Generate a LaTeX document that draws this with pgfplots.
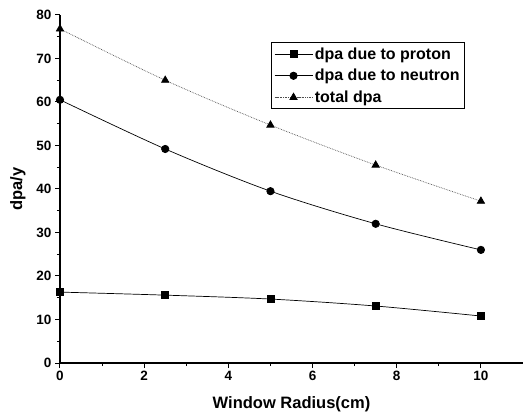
\documentclass[border=0pt]{standalone}
\usepackage{fontspec}
\setmainfont{Liberation Sans}
\usepackage{pgfplots}
\pgfplotsset{compat=1.18}
\pgfplotsset{myleg/.style={legend image code/.code={\draw[mark repeat=2,mark phase=2] plot coordinates {(0pt,0pt) (19pt,0pt) (38pt,0pt)};}}}
\begin{document}
\begin{tikzpicture}
\useasboundingbox (-60pt,-54pt) rectangle (464pt,363pt);
\begin{axis}[
  at={(0,0)}, anchor=south west,
  width=463pt, height=348pt, scale only axis,
  xmin=0, xmax=11, ymin=0, ymax=80,
  axis x line=bottom, axis y line=left,
  axis line style={-, line width=1.3pt},
  xtick={0,2,...,10}, ytick={0,10,...,80},
  minor x tick num=1, minor y tick num=1,
  tick align=outside, tick style={line width=1pt, black},
  major tick length=5pt, minor tick length=3pt,
  /pgf/number format/assume math mode=true,
  ticklabel style={font=\bfseries\fontsize{13.5}{15}\selectfont},
  xlabel={Window Radius(cm)}, ylabel={dpa/y},
  label style={font=\bfseries\fontsize{16.5}{18}\selectfont},
  xlabel style={yshift=-9pt},
  ylabel style={yshift=4pt},
  legend style={at={(0.455,0.922)}, anchor=north west, font=\bfseries\fontsize{16}{18}\selectfont, draw=black, line width=1pt, row sep=4.5pt, inner sep=3pt},
  legend cell align=left,
]
\addplot[black, smooth, mark=square*, mark size=3.5pt, line width=0.7pt, myleg] coordinates {(0,16.3) (2.5,15.6) (5,14.7) (7.5,13.1) (10,10.8)};
\addlegendentry{dpa due to proton}
\addplot[black, smooth, mark=*, mark size=3.7pt, line width=0.7pt, myleg] coordinates {(0,60.5) (2.5,49.2) (5,39.5) (7.5,32.0) (10,26.0)};
\addlegendentry{dpa due to neutron}
\addplot[black!70, smooth, densely dotted, mark=triangle*, mark size=4.2pt, mark options={solid, black}, line width=0.7pt, myleg] coordinates {(0,76.8) (2.5,65.0) (5,54.7) (7.5,45.5) (10,37.2)};
\addlegendentry{total dpa}
\end{axis}
\end{tikzpicture}
\end{document}
